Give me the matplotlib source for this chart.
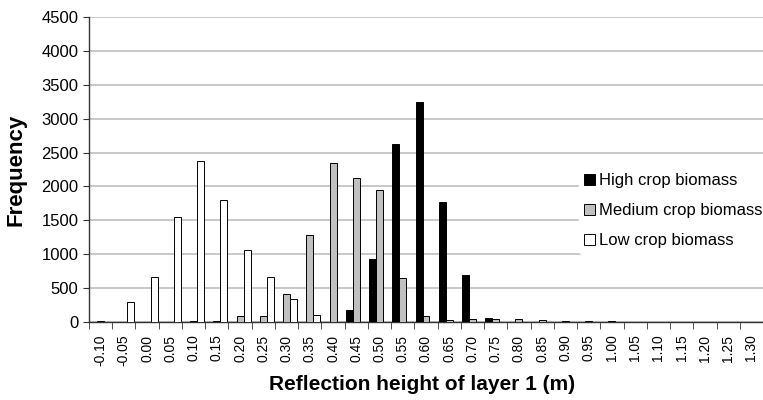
import matplotlib
matplotlib.use("Agg")
import matplotlib.pyplot as plt
import numpy as np
from matplotlib.ticker import FixedLocator

plt.rcParams["font.family"] = ["Liberation Sans", "DejaVu Sans"]

heights = ["-0.10", "-0.05", "0.00", "0.05", "0.10", "0.15", "0.20", "0.25", "0.30",
           "0.35", "0.40", "0.45", "0.50", "0.55", "0.60", "0.65", "0.70", "0.75",
           "0.80", "0.85", "0.90", "0.95", "1.00", "1.05", "1.10", "1.15", "1.20",
           "1.25", "1.30"]

high_biomass = [0, 0, 0, 0, 0, 0, 0, 0, 0,
                0, 0, 180, 930, 2630, 3250, 1775, 700, 60,
                0, 0, 0, 0, 0, 0, 0, 0, 0,
                0, 0]
medium_biomass = [20, 0, 0, 0, 10, 10, 90, 90, 410,
                  1290, 2340, 2130, 1950, 650, 90, 30, 40, 40,
                  40, 30, 20, 10, 10, 0, 0, 0, 0,
                  0, 0]
low_biomass = [0, 300, 660, 1550, 2380, 1800, 1060, 660, 345,
               110, 0, 0, 0, 0, 0, 0, 0, 0,
               0, 0, 0, 0, 0, 0, 0, 0, 0,
               0, 0]

series_labels = ["High crop biomass", "Medium crop biomass", "Low crop biomass"]

fig = plt.figure(figsize=(7.63, 4.0), dpi=100)
ax = fig.add_axes([89 / 763, 1 - 322 / 400, 674 / 763, 305 / 400])

x = np.arange(len(heights))
w = 0.3
colors = ["#000000", "#c0c0c0", "#ffffff"]
for i, (vals, lab, col) in enumerate(zip([high_biomass, medium_biomass, low_biomass],
                                         series_labels, colors)):
    ax.bar(x + (i - 1) * w, vals, width=w, color=col, edgecolor="black",
           linewidth=0.7, label=lab, zorder=3)

ax.set_xlim(-0.5, len(heights) - 0.5)
ax.set_ylim(0, 4500)
ax.set_yticks(np.arange(0, 4501, 500))
ax.yaxis.grid(True, color="#c4c4c4", linewidth=1.3, zorder=0)
ax.set_axisbelow(True)

ax.set_xticks(x)
ax.set_xticklabels(heights, rotation=90, fontsize=10)
ax.xaxis.set_minor_locator(FixedLocator(np.arange(-0.5, len(heights), 1)))
ax.tick_params(axis="x", which="major", length=0, pad=9)
ax.tick_params(axis="x", which="minor", length=5, direction="out", color="#333333")
ax.tick_params(axis="y", length=4, direction="out", labelsize=12, color="#333333")

for s in ["top", "right"]:
    ax.spines[s].set_visible(False)
for s in ["left", "bottom"]:
    ax.spines[s].set_color("#333333")
    ax.spines[s].set_linewidth(1.0)

ax.set_ylabel("Frequency", fontsize=16, fontweight="bold")
ax.yaxis.set_label_coords(26 / 763, 1 - 170 / 400, transform=fig.transFigure)
ax.set_xlabel("Reflection height of layer 1 (m)", fontsize=15, fontweight="bold")
ax.xaxis.set_label_coords(422 / 763, 1 - 375 / 400, transform=fig.transFigure)

leg = ax.legend(loc="center left", bbox_to_anchor=(571 / 763, 1 - 211 / 400),
                bbox_transform=fig.transFigure, frameon=True, fontsize=12,
                handlelength=0.65, handleheight=0.65, handletextpad=0.25,
                labelspacing=0.9, borderpad=0.3)
leg.get_frame().set_edgecolor("white")
leg.get_frame().set_facecolor("white")
leg.get_frame().set_alpha(1)

fig.savefig("out.png", dpi=100)
